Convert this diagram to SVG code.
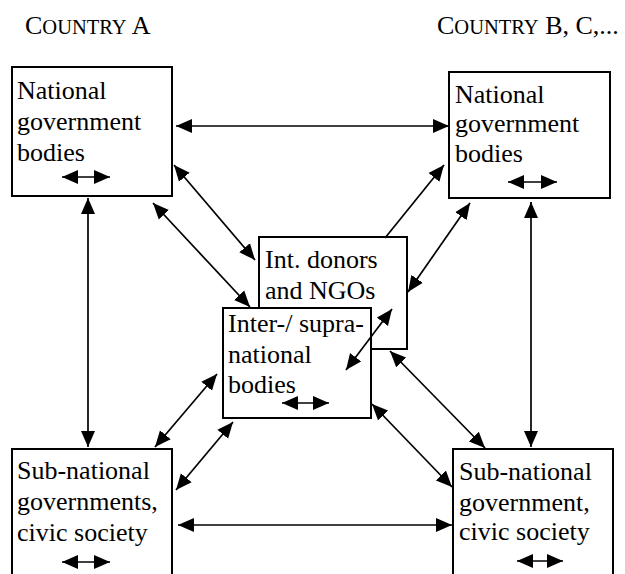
<svg xmlns="http://www.w3.org/2000/svg" width="625" height="574" viewBox="0 0 625 574">
<style>
text{font-family:"Liberation Serif","Times New Roman",serif;font-size:26px;fill:#000}
.sc{font-size:20.5px}
.box{fill:#fff;stroke:#000;stroke-width:2}
.c{stroke:#000;stroke-width:1.7;fill:none;marker-end:url(#ah)}
.d{marker-start:url(#ah)}
</style>
<defs>
<marker id="ah" markerUnits="userSpaceOnUse" markerWidth="17" markerHeight="15" refX="16" refY="7.5" orient="auto-start-reverse" viewBox="0 0 17 15">
<path d="M0,0.5 L16,7.5 L0,14.5 Z" fill="#000"/>
</marker>
</defs>
<rect width="625" height="574" fill="#fff"/>
<g id="headings">
<text x="25" y="34">C<tspan class="sc">OUNTRY</tspan> A</text>
<text x="437" y="34">C<tspan class="sc">OUNTRY</tspan> B, C,...</text>
</g>
<g id="nat-a">
<rect class="box" x="12" y="67" width="160" height="129"/>
<text x="17" y="99">National</text>
<text x="17" y="130">government</text>
<text x="17" y="161">bodies</text>
<line class="c d" x1="62" y1="177" x2="110" y2="177"/>
</g>
<g id="nat-b">
<rect class="box" x="449" y="72" width="161" height="126"/>
<text x="455" y="103">National</text>
<text x="455" y="132">government</text>
<text x="455" y="162">bodies</text>
<line class="c d" x1="508" y1="182" x2="557" y2="182"/>
</g>
<g id="donors">
<rect class="box" x="259" y="237" width="148" height="112"/>
<text x="265" y="268">Int. donors</text>
<text x="265" y="299">and NGOs</text>
</g>
<g id="inter">
<rect class="box" x="223" y="308" width="148" height="110"/>
<text x="228" y="332">Inter-/ supra-</text>
<text x="228" y="363">national</text>
<text x="228" y="393">bodies</text>
<line class="c d" x1="282" y1="403" x2="329" y2="403"/>
</g>
<g id="sub-a">
<rect class="box" x="12" y="449" width="160" height="135"/>
<text x="17" y="479">Sub-national</text>
<text x="17" y="510">governments,</text>
<text x="17" y="541">civic society</text>
<line class="c d" x1="62" y1="562" x2="110" y2="562"/>
</g>
<g id="sub-b">
<rect class="box" x="453" y="449" width="160" height="135"/>
<text x="459" y="480">Sub-national</text>
<text x="459" y="511">government,</text>
<text x="459" y="540">civic society</text>
<line class="c d" x1="517" y1="561" x2="563" y2="561"/>
</g>
<g id="connectors">
<line class="c d" x1="176" y1="126" x2="449" y2="126"/>
<line class="c d" x1="174" y1="165" x2="255" y2="260"/>
<line class="c d" x1="153" y1="203" x2="250" y2="307"/>
<line class="c" x1="385" y1="238" x2="444" y2="165"/>
<line class="c d" x1="470" y1="203" x2="408" y2="292"/>
<line class="c d" x1="88" y1="198" x2="88" y2="447"/>
<line class="c d" x1="531" y1="202" x2="531" y2="447"/>
<line class="c d" x1="392" y1="309" x2="346" y2="370"/>
<line class="c d" x1="390" y1="351" x2="485" y2="448"/>
<line class="c d" x1="372" y1="404" x2="452" y2="487"/>
<line class="c d" x1="217" y1="374" x2="155" y2="447"/>
<line class="c d" x1="233" y1="422" x2="176" y2="490"/>
<line class="c d" x1="178" y1="525" x2="452" y2="525"/>
</g>
</svg>
